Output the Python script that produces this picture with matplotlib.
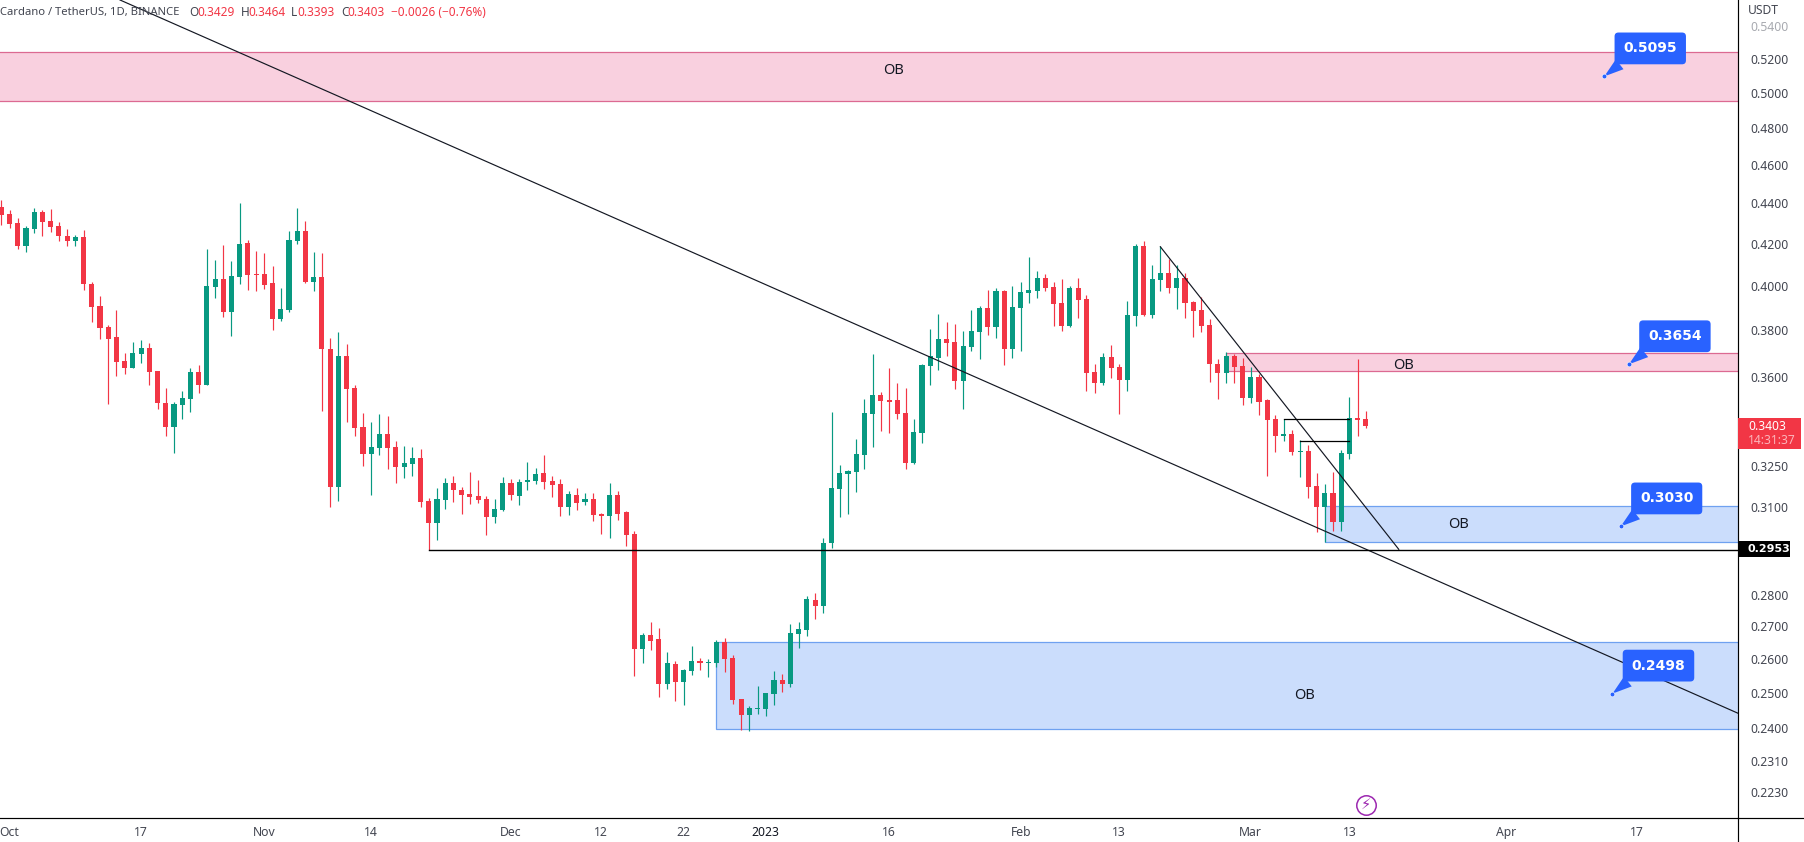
import numpy as np
import matplotlib
matplotlib.use('Agg')
import matplotlib.pyplot as plt
from matplotlib.lines import Line2D
from matplotlib.patches import Rectangle

plt.rcParams['font.family'] = ['Noto Sans', 'DejaVu Sans']

# daily candles, bar 0 = 30 Sep 2022
opens = [.4380,.4345,.4301,.4188,.4271,.4355,.4311,.4286,.4237,.4212,
    .4232,.4008,.3908,.3814,.3770,.3667,.3637,.3697,.3723,.3625,
    .3494,.3398,.3486,.3510,.3621,.3567,.3994,.4032,.3881,.4041,
    .4203,.4055,.4055,.4013,.3850,.3890,.4212,.4261,.4018,.4041,
    .3718,.3171,.3688,.3554,.3398,.3294,.3317,.3370,.3320,.3244,
    .3256,.3279,.3119,.3042,.3123,.3185,.3160,.3145,.3138,.3127,
    .3063,.3087,.3185,.3138,.3189,.3192,.3222,.3192,.3182,.3098,
    .3141,.3116,.3127,.3073,.3066,.3141,.3080,.3003,.2630,.2672,
    .2660,.2525,.2584,.2531,.2564,.2593,.2587,.2587,.2651,.2602,
    .2482,.2437,.2454,.2454,.2496,.2537,.2525,.2676,.2688,.2783,
    .2764,.2972,.3163,.3218,.3226,.3290,.3450,.3526,.3506,.3506,
    .3454,.3260,.3374,.3646,.3680,.3761,.3748,.3584,.3727,.3792,
    .3899,.3814,.3976,.3718,.3899,.3967,.3976,.4036,.3994,.3921,
    .3818,.3990,.3940,.3621,.3575,.3684,.3641,.3588,.3863,.4188,
    .3867,.4027,.4060,.3990,.4036,.3926,.3890,.3823,.3654,.3617,
    .3688,.3646,.3514,.3600,.3506,.3430,.3363,.3370,.3301,.3305,
    .3174,.3098,.3149,.3045,.3294,.3434,.3429]
highs = [.4416,.4365,.4326,.4286,.4375,.4365,.4370,.4306,.4271,.4242,
    .4266,.4018,.3953,.3823,.3890,.3701,.3748,.3757,.3744,.3625,
    .3554,.3498,.3542,.3637,.3650,.4174,.4121,.4193,.4116,.4401,
    .4217,.4164,.4154,.4093,.3990,.4261,.4375,.4311,.4159,.4154,
    .3766,.3792,.3740,.3567,.3454,.3418,.3450,.3442,.3343,.3324,
    .3320,.3313,.3130,.3167,.3203,.3211,.3171,.3226,.3196,.3138,
    .3127,.3207,.3200,.3200,.3264,.3241,.3290,.3211,.3200,.3156,
    .3167,.3149,.3149,.3077,.3185,.3156,.3084,.3014,.2679,.2713,
    .2694,.2621,.2593,.2570,.2639,.2602,.2599,.2657,.2663,.2611,
    .2482,.2462,.2519,.2499,.2564,.2555,.2707,.2713,.2796,.2805,
    .2989,.3458,.3252,.3233,.3351,.3510,.3697,.3538,.3637,.3575,
    .3554,.3430,.3654,.3805,.3872,.3836,.3827,.3797,.3890,.3908,
    .3980,.3990,.3980,.3999,.4018,.4135,.4069,.4055,.4018,.4032,
    .3999,.4036,.3958,.3654,.3701,.3736,.3654,.3931,.4198,.4212,
    .4098,.4188,.4126,.4098,.4060,.3931,.3949,.3850,.3675,.3705,
    .3697,.3680,.3641,.3613,.3510,.3446,.3430,.3386,.3347,.3328,
    .3222,.3182,.3226,.3309,.3518,.3675,.3464]
lows = [.4291,.4276,.4174,.4159,.4252,.4237,.4256,.4212,.4188,.4188,
    .3980,.3836,.3761,.3490,.3604,.3613,.3637,.3658,.3567,.3470,
    .3363,.3298,.3430,.3458,.3534,.3567,.3944,.3858,.3775,.4008,
    .3980,.3976,.3985,.3801,.3841,.3881,.4198,.4013,.3976,.3462,
    .3098,.3119,.3418,.3363,.3248,.3141,.3290,.3237,.3185,.3203,
    .3211,.3098,.2950,.2982,.3091,.3116,.3073,.3109,.3112,.2999,
    .3042,.3084,.3123,.3105,.3160,.3182,.3163,.3134,.3066,.3070,
    .3087,.3105,.3049,.3003,.2989,.3052,.2962,.2549,.2587,.2627,
    .2488,.2511,.2476,.2465,.2552,.2567,.2546,.2576,.2561,.2468,
    .2395,.2392,.2440,.2434,.2465,.2502,.2516,.2633,.2669,.2722,
    .2741,.2955,.3063,.3073,.3152,.3237,.3320,.3382,.3374,.3430,
    .3237,.3256,.3335,.3567,.3629,.3688,.3550,.3470,.3710,.3675,
    .3779,.3766,.3650,.3680,.3710,.3921,.3944,.3976,.3818,.3797,
    .3814,.3854,.3542,.3534,.3567,.3596,.3450,.3542,.3818,.3863,
    .3854,.3976,.3967,.3895,.3854,.3770,.3792,.3580,.3510,.3575,
    .3575,.3486,.3494,.3446,.3211,.3301,.3343,.3290,.3207,.3130,
    .3010,.2975,.3014,.3014,.3275,.3363,.3393]
closes = [.4340,.4296,.4188,.4276,.4355,.4306,.4281,.4237,.4212,.4232,
    .4008,.3904,.3810,.3761,.3663,.3637,.3701,.3723,.3621,.3494,
    .3398,.3490,.3514,.3621,.3567,.3999,.4032,.3881,.4046,.4198,
    .4050,.4050,.4003,.3850,.3895,.4217,.4261,.4018,.4041,.3718,
    .3171,.3688,.3550,.3394,.3294,.3320,.3370,.3317,.3244,.3260,
    .3279,.3116,.3042,.3127,.3185,.3160,.3141,.3134,.3123,.3063,
    .3091,.3185,.3141,.3189,.3196,.3218,.3189,.3178,.3098,.3145,
    .3112,.3127,.3070,.3066,.3141,.3073,.2999,.2630,.2672,.2654,
    .2525,.2587,.2531,.2567,.2593,.2587,.2590,.2651,.2599,.2479,
    .2437,.2457,.2457,.2499,.2537,.2525,.2679,.2691,.2786,.2764,
    .2972,.3167,.3222,.3229,.3294,.3454,.3526,.3502,.3498,.3450,
    .3260,.3378,.3650,.3688,.3761,.3744,.3584,.3731,.3797,.3899,
    .3814,.3976,.3718,.3904,.3971,.3980,.4036,.3990,.3917,.3818,
    .3990,.3935,.3617,.3575,.3684,.3637,.3588,.3867,.4188,.3867,
    .4032,.4060,.3990,.4036,.3921,.3885,.3818,.3654,.3617,.3688,
    .3641,.3514,.3600,.3498,.3426,.3363,.3370,.3301,.3305,.3171,
    .3098,.3149,.3045,.3298,.3434,.3426,.3403]

price_ticks = [.54,.52,.50,.48,.46,.44,.42,.40,.38,.36,.325,.31,.28,.27,.26,.25,.24,.231,.223]
date_ticks = [1,17,32,45,62,73,83,93,108,124,136,152,164,183,199]
date_names = ['Oct','17','Nov','14','Dec','12','22','2023','16','Feb','13','Mar','13','Apr','17']

# order block zones: first bar, top, bottom
pink_zones = [(-5,.5239,.4950),(149,.3701,.3624)]
blue_zones = [(161,.3101,.2977),(87,.2651,.2397)]
ob_labels = [(108.5,.5127),(170.6,.3650),(177.3,.3035),(158.5,.2492)]

# trend lines
long_line = ([14.44,211.27],[.5565,.2442])
short_line = ([141,170],[.4185,.2951])
flat_lines = [(52,215,.2950,1.0),(156,164,.3429,0.9),(158,164,.3346,0.9)]

callouts = [(195,.5095),(198,.3654),(197,.3030),(196,.2498)]

RED = '#f23645'
GREEN = '#089981'
BLUE = '#2962ff'
INK = '#131722'
GRAY = '#434651'
W, H = 1804, 842
AX_R, AX_B = 1738, 818.3

fig = plt.figure(figsize=(W/100, H/100), dpi=100)
ax = fig.add_axes([0, 1-AX_B/H, AX_R/W, AX_B/H])

xs = np.arange(len(opens))
opens, highs, lows, closes = map(np.array, (opens, highs, lows, closes))
up = closes >= opens
cols = np.where(up, GREEN, RED)

ax.vlines(xs, lows, highs, colors=cols, lw=0.85, zorder=3)
ax.bar(xs, np.abs(closes-opens), bottom=np.minimum(opens, closes), width=0.62,
    color=cols, lw=0, zorder=4)

for x0, top, bot in pink_zones:
    ax.add_patch(Rectangle((x0, bot), 230-x0, top-bot, fc='#f9d0df', ec='#dc6a92', lw=0.9, zorder=1))
for x0, top, bot in blue_zones:
    ax.add_patch(Rectangle((x0, bot), 230-x0, top-bot, fc='#cbddfc', ec='#6fa1f0', lw=0.9, zorder=1))
for x, y in ob_labels:
    ax.text(x, y, 'OB', ha='center', va='center', fontsize=10.5, color=INK, zorder=6)

ax.plot(*long_line, color=INK, lw=0.85, zorder=5)
ax.plot(*short_line, color=INK, lw=0.85, zorder=5)
for x0, x1, y, lw in flat_lines:
    ax.plot([x0, x1], [y, y], color='black', lw=lw, zorder=5)

for x, y in callouts:
    ax.annotate(f'{y:.4f}', xy=(x, y), xytext=(46, 28), textcoords='offset pixels',
        ha='center', va='center', color='white', family='DejaVu Sans', fontsize=10,
        fontweight='bold', zorder=8,
        bbox=dict(boxstyle='round,pad=0.64,rounding_size=0.28', fc=BLUE, ec=BLUE, lw=0),
        arrowprops=dict(arrowstyle='wedge,tail_width=0.9,shrink_factor=0.5', fc=BLUE, ec=BLUE,
            lw=0, shrinkA=0, shrinkB=0, relpos=(0.14, 0.0)))
    ax.plot(x, y, 'o', ms=3.4, mfc=BLUE, mec='white', mew=0.4, zorder=9)

# lightning marker near the last bar
ax.plot(166, .2197, 'o', ms=14, mfc='white', mec='#9c27b0', mew=1.1, zorder=6)
ax.text(166, .2197, '\u26a1', family='DejaVu Sans', ha='center', va='center',
    fontsize=10.5, color='#9c27b0', zorder=7)

ax.set_yscale('log')
ax.set_xlim(-0.162, 211.27)
ax.set_ylim(.2163, .5565)
ax.minorticks_off()
ax.yaxis.tick_right()
ax.set_yticks(price_ticks, [f'{p:.4f}' for p in price_ticks])
ax.set_xticks(date_ticks, date_names)
ax.tick_params(axis='y', length=0, pad=9, labelsize=8.8, labelcolor=GRAY)
ax.tick_params(axis='x', length=0, pad=5.5, labelsize=8.8, labelcolor=GRAY)
ax.yaxis.get_ticklabels()[0].set_color('#a8aab0')
ax.xaxis.get_ticklabels()[7].set_color(INK)
for s in ('top', 'left'):
    ax.spines[s].set_visible(False)
for s in ('right', 'bottom'):
    ax.spines[s].set_linewidth(0.85)
    ax.spines[s].set_color('black')

def px(x, y):
    return x/W, 1-y/H

fig.add_artist(Line2D([px(AX_R, 0)[0]]*2, [px(0, AX_B)[1], 0], color='black', lw=0.85))
fig.add_artist(Line2D([AX_R/W, 1], [px(0, AX_B)[1]]*2, color='black', lw=0.85))

def label(x, y, s, color=GRAY, **kw):
    kw.setdefault('fontsize', 8.7)
    fig.text(*px(x, y), s, color=color, va='center', **kw)

label(0, 12, 'Cardano / TetherUS, 1D, BINANCE', GRAY, fontsize=8.1)
header = [(189,'O',GRAY),(197,'0.3429',RED),
    (240.5,'H',GRAY),(248,'0.3464',RED),(291,'L',GRAY),(297,'0.3393',RED),(341,'C',GRAY),
    (347,'0.3403',RED),(391,'\u22120.0026 (\u22120.76%)',RED)]
for x, s, c in header:
    label(x, 12, s, c, fontsize=8.5)

label(1748, 10.5, 'USDT')

# price tags on the axis
fig.add_artist(Rectangle(px(1738, 448.7), 62.5/W, 30.4/H, fc=RED, lw=0, transform=fig.transFigure))
label(1748, 426.7, '0.3403', 'white', fontweight='medium', zorder=5)
label(1748, 440.7, '14:31:37', '#fbb4ba', zorder=5)
fig.add_artist(Rectangle(px(1738, 557.3), 52/W, 16.3/H, fc='black', lw=0, transform=fig.transFigure))
label(1747, 549.5, '0.2953', 'white', family='DejaVu Sans', fontweight='bold', fontsize=8, zorder=5)

fig.savefig('out.png', dpi=100)
